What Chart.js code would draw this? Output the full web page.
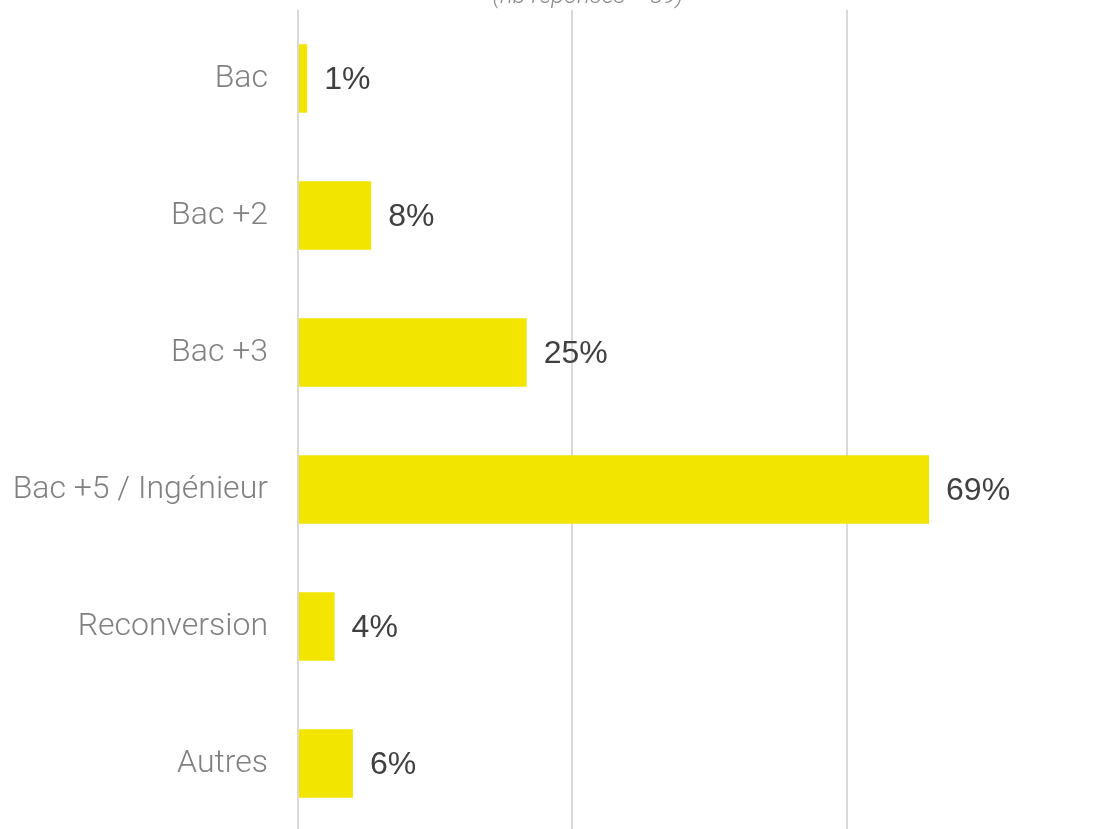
<!DOCTYPE html>
<html>
<head>
<meta charset="utf-8">
<script src="https://cdn.jsdelivr.net/npm/chart.js@4"></script>
<style>
  html, body { margin: 0; padding: 0; background: #fff; overflow: hidden; }
  #diplomeChart { position: absolute; left: 0; top: -17px; }
</style>
</head>
<body>
<canvas id="diplomeChart" width="1176" height="849"></canvas>
<script>
const categories = ['Bac', 'Bac +2', 'Bac +3', 'Bac +5 / Ingénieur', 'Reconversion', 'Autres'];
const percents = [1, 8, 25, 69, 4, 6];
const subtitleText = '(nb réponses = 89)';

// draw "xx%" next to each bar
const valueLabels = {
    id: 'valueLabels',
    afterDatasetsDraw(chart) {
        const ctx = chart.ctx;
        const meta = chart.getDatasetMeta(0);
        ctx.save();
        ctx.font = '32px "Liberation Sans", Arial, sans-serif';
        ctx.fillStyle = '#404040';
        ctx.textAlign = 'left';
        ctx.textBaseline = 'middle';
        meta.data.forEach((bar, i) => {
            ctx.fillText(percents[i] + '%', bar.x + 17, bar.y + 2);
        });
        ctx.restore();
    }
};

const ctx = document.getElementById('diplomeChart').getContext('2d');
const diplomeChart = new Chart(ctx, {
    type: 'bar',
    data: {
        labels: categories,
        datasets: [{
            label: 'Diplôme',
            data: percents,
            backgroundColor: '#f2e500',
            borderWidth: 0,
            categoryPercentage: 1,
            barPercentage: 0.5
        }]
    },
    options: {
        indexAxis: 'y',
        responsive: false,
        animation: false,
        layout: { padding: 0 },
        plugins: {
            legend: { display: false },
            tooltip: { enabled: false },
            title: {
                display: true,
                text: subtitleText,
                color: '#8c8c8c',
                font: { family: 'Roboto', size: 24, style: 'italic', weight: '300', lineHeight: 1.125 },
                padding: { top: 0, bottom: 0 }
            }
        },
        scales: {
            x: {
                min: 0,
                max: 96,
                ticks: { display: false, stepSize: 30 },
                grid: { color: '#d9d9d9', lineWidth: 2, drawTicks: false },
                border: { display: false }
            },
            y: {
                ticks: {
                    color: '#808080',
                    padding: 30,
                    font: { family: 'Roboto', size: 32, weight: '300' }
                },
                grid: { display: false, drawTicks: false },
                border: { display: false },
                afterFit(scale) {
                    scale.width = 298;
                    // labels sit inside the bands, no extra room needed
                    scale.paddingTop = 0;
                    scale.paddingBottom = 0;
                }
            }
        }
    },
    plugins: [valueLabels]
});
</script>
</body>
</html>
